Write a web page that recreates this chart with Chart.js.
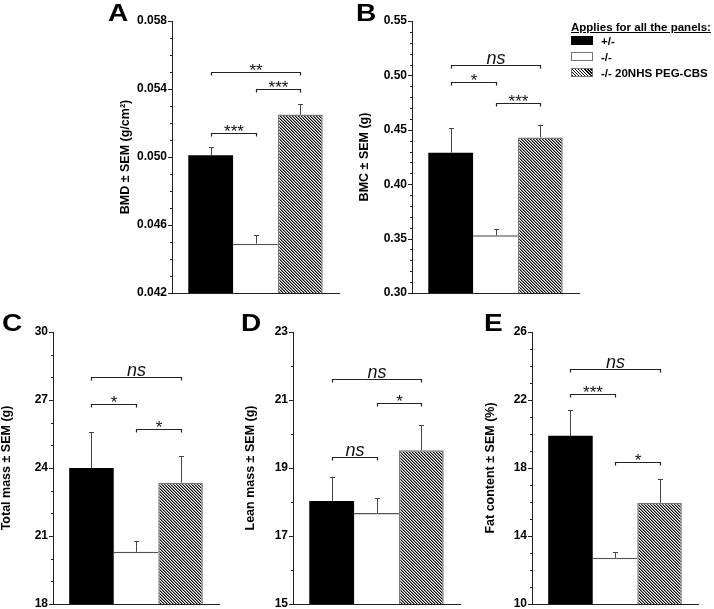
<!DOCTYPE html>
<html>
<head>
<meta charset="utf-8">
<script src="https://cdn.jsdelivr.net/npm/chart.js@4/dist/chart.umd.min.js"></script>
<style>
  html,body{margin:0;padding:0;background:#fff;}
  body{width:714px;height:609px;position:relative;overflow:hidden;font-family:'Liberation Sans',Arial,Helvetica,sans-serif;color:#000;}
  canvas{position:absolute;}
  .letter{position:absolute;font-weight:bold;font-size:23px;line-height:23px;transform:scaleX(1.22);transform-origin:left top;}
  .lg{position:absolute;font-weight:bold;font-size:11.5px;line-height:12px;white-space:nowrap;}
  .box{position:absolute;width:22px;height:9px;box-sizing:border-box;}
</style>
</head>
<body>
<script>
// ---------- DATA ----------
const groups = ['+/-', '-/-', '-/- 20NHS PEG-CBS'];

const bmd        = [0.0501, 0.0449, 0.0525];
const bmdSem     = [0.0005, 0.0005, 0.0006];
const bmc        = [0.429, 0.353, 0.443];
const bmcSem     = [0.023, 0.006, 0.011];
const totalMass  = [24.0, 20.3, 23.35];
const totalSem   = [1.57, 0.50, 1.16];
const leanMass   = [18.03, 17.68, 19.52];
const leanSem    = [0.71, 0.45, 0.75];
const fatContent = [19.89, 12.72, 15.95];
const fatSem     = [1.51, 0.32, 1.41];

const ticksBMD   = ['0.042', '0.046', '0.050', '0.054', '0.058'];
const ticksBMC   = ['0.30', '0.35', '0.40', '0.45', '0.50', '0.55'];
const ticksTotal = ['18', '21', '24', '27', '30'];
const ticksLean  = ['15', '17', '19', '21', '23'];
const ticksFat   = ['10', '14', '18', '22', '26'];

// significance brackets: [from group, to group, bracket level (y value), label]
const sigBMD   = [[0, 1, 0.05143, '***'], [1, 2, 0.0540, '***'], [0, 2, 0.05502, '**']];
const sigBMC   = [[0, 1, 0.4937, '*'], [1, 2, 0.4744, '***'], [0, 2, 0.5096, 'ns']];
const sigTotal = [[0, 1, 26.81, '*'], [1, 2, 25.70, '*'], [0, 2, 28.0, 'ns']];
const sigLean  = [[0, 1, 19.33, 'ns'], [1, 2, 20.90, '*'], [0, 2, 21.63, 'ns']];
const sigFat   = [[0, 1, 22.38, '***'], [1, 2, 18.36, '*'], [0, 2, 23.85, 'ns']];

// ---------- STYLES / LAYOUT ----------
const FONT = "'Liberation Sans', Arial, Helvetica, sans-serif";
const PAD = 16;

function makeHatch() {
  const c = document.createElement('canvas');
  c.width = 3; c.height = 3;
  const x = c.getContext('2d');
  x.fillStyle = '#fff'; x.fillRect(0, 0, 3, 3);
  for (let i = 0; i < 3; i++) {
    x.fillStyle = '#000'; x.fillRect(i, i, 1, 1);
    x.fillStyle = '#8a8a8a'; x.fillRect((i + 1) % 3, i, 1, 1);
  }
  return c;
}
const hatchCanvas = makeHatch();

const panels = [
  {letter: 'A', lx: 108, ly: 2,   title: 'BMD ± SEM (g/cm²)',     values: bmd,        sem: bmdSem,   ticks: ticksBMD,   minor: 0.001, sig: sigBMD,   titleX: 125.5, L: 172, R: 339, T: 21,  B: 293},
  {letter: 'B', lx: 356, ly: 2,   title: 'BMC ± SEM (g)',         values: bmc,        sem: bmcSem,   ticks: ticksBMC,   minor: 0.01,  sig: sigBMC,   titleX: 365,   L: 412, R: 579, T: 21,  B: 293},
  {letter: 'C', lx: 2,   ly: 312, title: 'Total mass ± SEM (g)',  values: totalMass,  sem: totalSem, ticks: ticksTotal, minor: 1,     sig: sigTotal, titleX: 7,     L: 53,  R: 219, T: 332, B: 604},
  {letter: 'D', lx: 241, ly: 312, title: 'Lean mass ± SEM (g)',   values: leanMass,   sem: leanSem,  ticks: ticksLean,  minor: 1,     sig: sigLean,  titleX: 250.5, L: 293, R: 460, T: 332, B: 604},
  {letter: 'E', lx: 484, ly: 312, title: 'Fat content ± SEM (%)', values: fatContent, sem: fatSem,   ticks: ticksFat,   minor: 1,     sig: sigFat,   titleX: 490.5, L: 532, R: 698, T: 332, B: 604}
];

const annotPlugin = {
  id: 'annot',
  afterDatasetsDraw(chart) {
    const cfg = chart.options.plugins.annot;
    const ctx = chart.ctx;
    const ys = chart.scales.y;
    const area = chart.chartArea;
    ctx.save();
    // error bars (upper)
    ctx.strokeStyle = '#444';
    ctx.lineWidth = 1;
    chart.data.datasets.forEach((ds, i) => {
      const bar = chart.getDatasetMeta(i).data[0];
      const v = ds.data[0], e = cfg.sem[i];
      const x = Math.round(bar.x) + 0.5;
      const y1 = Math.round(ys.getPixelForValue(v + e)) + 0.5;
      ctx.beginPath();
      ctx.moveTo(x, bar.y); ctx.lineTo(x, y1);
      ctx.moveTo(x - 2.5, y1); ctx.lineTo(x + 2.5, y1);
      ctx.stroke();
    });
    // significance brackets
    cfg.sig.forEach(([a, b, lvl, label]) => {
      const xa = Math.round(chart.getDatasetMeta(a).data[0].x) + 0.5;
      const xb = Math.round(chart.getDatasetMeta(b).data[0].x) + 0.5;
      const yy = Math.round(ys.getPixelForValue(lvl)) + 0.5;
      ctx.strokeStyle = '#222';
      ctx.lineWidth = 1.2;
      ctx.beginPath();
      ctx.moveTo(xa, yy + 3); ctx.lineTo(xa, yy); ctx.lineTo(xb, yy); ctx.lineTo(xb, yy + 3);
      ctx.stroke();
      ctx.fillStyle = '#111';
      ctx.textAlign = 'center';
      ctx.textBaseline = 'alphabetic';
      if (label === 'ns') {
        ctx.font = 'italic 18px ' + FONT;
        ctx.fillText(label, (xa + xb) / 2, yy - 1.5);
      } else {
        ctx.font = '17px ' + FONT;
        ctx.fillText(label, (xa + xb) / 2, yy + 3);
      }
    });
    // y tick marks (major longer, minor shorter)
    ctx.strokeStyle = '#222';
    ctx.lineWidth = 1;
    ys.ticks.forEach(t => {
      const py = Math.round(ys.getPixelForValue(t.value)) + 0.5;
      const len = t.label ? 4 : 2;
      ctx.beginPath();
      ctx.moveTo(area.left - len, py); ctx.lineTo(area.left, py);
      ctx.stroke();
    });
    ctx.restore();
  }
};

panels.forEach(p => {
  const left = Math.round(p.titleX - 8);
  const top = p.T - PAD;
  const width = p.R - left + 8;
  const height = p.B - top + PAD;
  const cv = document.createElement('canvas');
  cv.width = width; cv.height = height;
  cv.style.left = left + 'px'; cv.style.top = top + 'px';
  cv.style.width = width + 'px'; cv.style.height = height + 'px';
  document.body.appendChild(cv);

  const lt = document.createElement('div');
  lt.className = 'letter';
  lt.textContent = p.letter;
  lt.style.left = p.lx + 'px'; lt.style.top = p.ly + 'px';
  document.body.appendChild(lt);

  const dec = (p.ticks[0].split('.')[1] || '').length;
  const yMin = parseFloat(p.ticks[0]);
  const yMax = parseFloat(p.ticks[p.ticks.length - 1]);
  const hatch = cv.getContext('2d').createPattern(hatchCanvas, 'repeat');

  new Chart(cv, {
    type: 'bar',
    data: {
      labels: [''],
      datasets: [
        {label: groups[0], data: [p.values[0]], backgroundColor: '#000', borderWidth: 0},
        {label: groups[1], data: [p.values[1]], backgroundColor: '#fff', borderColor: '#555', borderWidth: {top: 1.5, left: 0, right: 0, bottom: 0}},
        {label: groups[2], data: [p.values[2]], backgroundColor: hatch, borderColor: '#777', borderWidth: {top: 1.5, left: 1.5, right: 1.5, bottom: 0}}
      ]
    },
    options: {
      responsive: false,
      animation: false,
      devicePixelRatio: 1,
      categoryPercentage: 0.805,
      barPercentage: 1,
      layout: {padding: {left: 0, top: PAD, right: 8, bottom: PAD}},
      plugins: {
        legend: {display: false},
        tooltip: {enabled: false},
        annot: {sem: p.sem, sig: p.sig}
      },
      scales: {
        x: {
          type: 'category',
          offset: true,
          ticks: {display: false},
          grid: {drawOnChartArea: false, drawTicks: false},
          border: {display: true, color: '#222', width: 1},
          afterFit: s => { s.height = 0; }
        },
        y: {
          type: 'linear',
          min: yMin, max: yMax,
          afterFit: s => { s.width = p.L - left; },
          grid: {drawOnChartArea: false, drawTicks: false},
          border: {display: true, color: '#222', width: 1},
          ticks: {
            stepSize: p.minor,
            maxTicksLimit: 200,
            autoSkip: false,
            padding: 5,
            color: '#000',
            font: {family: FONT, size: 12, weight: 'bold'},
            callback: v => {
              const s = Number(v).toFixed(dec);
              return p.ticks.includes(s) ? s : '';
            }
          },
          title: {
            display: true,
            text: p.title,
            color: '#000',
            font: {family: FONT, size: 12.5, weight: 'bold', lineHeight: 1},
            padding: {top: 8 - 6.25, bottom: 0}
          }
        }
      }
    },
    plugins: [annotPlugin]
  });
});

// ---------- LEGEND (HTML text) ----------
function addLg(text, x, y, underline) {
  const d = document.createElement('div');
  d.className = 'lg';
  d.textContent = text;
  d.style.left = x + 'px'; d.style.top = y + 'px';
  if (underline) d.style.textDecoration = 'underline';
  document.body.appendChild(d);
}
function addBox(y, style) {
  const b = document.createElement('div');
  b.className = 'box';
  b.style.left = '571px'; b.style.top = y + 'px';
  Object.assign(b.style, style);
  document.body.appendChild(b);
}
addLg('Applies for all the panels:', 571, 21, true);
addBox(36, {background: '#000'});
addBox(52, {background: '#fff', border: '1px solid #777'});
addBox(68, {background: 'repeating-linear-gradient(45deg, #000 0px, #000 1px, #fff 1px, #fff 2.2px)', border: '1px solid #777'});
addLg(groups[0], 601, 35);
addLg(groups[1], 601, 50.5);
addLg(groups[2], 601, 66.5);
</script>
</body>
</html>
